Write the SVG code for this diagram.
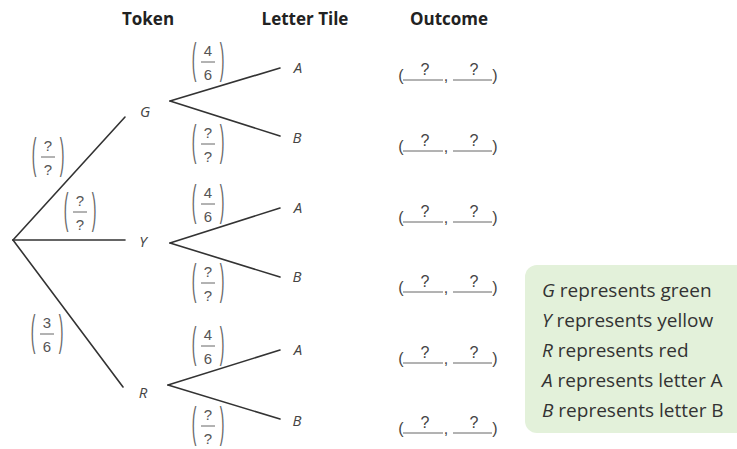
<svg xmlns="http://www.w3.org/2000/svg" width="737" height="449" viewBox="0 0 737 449">
<defs>
<style>
.hd{font-family:"Open Sans","Liberation Sans",sans-serif;font-weight:bold;font-size:17px;fill:#222;text-anchor:middle}
.lb{font-family:"Open Sans","Liberation Sans",sans-serif;font-style:italic;font-size:15px;fill:#444;text-anchor:middle}
.br{stroke:#333;stroke-width:1.6;fill:none;stroke-linecap:round}
.fr{font-family:"Liberation Sans",sans-serif;font-size:15px;fill:#555;text-anchor:middle}
.par{font-family:"Liberation Sans",sans-serif;font-size:14px;fill:#666;text-anchor:middle}
.bar{stroke:#666;stroke-width:1}
.q{font-family:"Liberation Sans",sans-serif;font-size:16px;fill:#444;text-anchor:middle}
.ul{stroke:#666;stroke-width:1}
.lg{font-family:"Open Sans","Liberation Sans",sans-serif;font-size:19px;fill:#333}
.it{font-style:italic}
</style>
<g id="fq"><text class="par" x="-14" y="3.6" transform="scale(1,3.1)">(</text><text class="par" x="14" y="3.6" transform="scale(1,3.1)">)</text><text class="fr" x="0" y="-6">?</text><line class="bar" x1="-7" y1="0" x2="7" y2="0"/><text class="fr" x="0" y="18">?</text></g>
<g id="f46"><text class="par" x="-14" y="3.6" transform="scale(1,3.1)">(</text><text class="par" x="14" y="3.6" transform="scale(1,3.1)">)</text><text class="fr" x="0" y="-6">4</text><line class="bar" x1="-7" y1="0" x2="7" y2="0"/><text class="fr" x="0" y="18">6</text></g>
<g id="oc"><text class="q" x="401" y="1">(</text><line class="ul" x1="403" y1="0" x2="443" y2="0"/><text class="q" x="446" y="1">,</text><line class="ul" x1="453" y1="0" x2="492" y2="0"/><text class="q" x="495" y="1">)</text><text class="q" x="425" y="-5">?</text><text class="q" x="474" y="-5">?</text></g>
</defs>

<g id="headings">
<text class="hd" x="148" y="25">Token</text>
<text class="hd" x="305" y="25">Letter Tile</text>
<text class="hd" x="449" y="25">Outcome</text>
</g>

<g id="connectors">
<line class="br" x1="13" y1="240" x2="125" y2="117"/>
<line class="br" x1="13" y1="240" x2="125" y2="240"/>
<line class="br" x1="13" y1="240" x2="123" y2="387"/>
<line class="br" x1="170" y1="101" x2="280" y2="68"/>
<line class="br" x1="170" y1="101" x2="280" y2="136"/>
<line class="br" x1="170" y1="243" x2="280" y2="208"/>
<line class="br" x1="170" y1="243" x2="280" y2="277"/>
<line class="br" x1="168" y1="385" x2="280" y2="350"/>
<line class="br" x1="168" y1="385" x2="280" y2="419"/>
</g>

<g id="probabilities">
<use href="#fq" x="48" y="157"/>
<use href="#fq" x="80" y="212"/>
<g transform="translate(47,334)"><text class="par" x="-14" y="3.6" transform="scale(1,3.1)">(</text><text class="par" x="14" y="3.6" transform="scale(1,3.1)">)</text><text class="fr" x="0" y="-6">3</text><line class="bar" x1="-7" y1="0" x2="7" y2="0"/><text class="fr" x="0" y="18">6</text></g>
<use href="#f46" x="208" y="62"/>
<use href="#fq" x="208" y="144"/>
<use href="#f46" x="208" y="204"/>
<use href="#fq" x="208" y="283"/>
<use href="#f46" x="208" y="346"/>
<use href="#fq" x="208" y="426"/>
</g>

<g id="node-G"><text class="lb" x="145" y="117">G</text></g>
<g id="node-Y"><text class="lb" x="143" y="247">Y</text></g>
<g id="node-R"><text class="lb" x="143" y="398">R</text></g>
<g id="node-GA"><text class="lb" x="298" y="73">A</text></g>
<g id="node-GB"><text class="lb" x="297" y="143">B</text></g>
<g id="node-YA"><text class="lb" x="298" y="213">A</text></g>
<g id="node-YB"><text class="lb" x="297" y="282">B</text></g>
<g id="node-RA"><text class="lb" x="298" y="355">A</text></g>
<g id="node-RB"><text class="lb" x="297" y="426">B</text></g>

<g id="outcomes">
<use href="#oc" y="80"/>
<use href="#oc" y="151"/>
<use href="#oc" y="222"/>
<use href="#oc" y="292"/>
<use href="#oc" y="363"/>
<use href="#oc" y="433"/>
</g>

<g id="legend">
<rect x="525" y="265" width="230" height="168" rx="12" fill="#e3f1da"/>
<text class="lg" x="542" y="297"><tspan class="it">G</tspan> represents green</text>
<text class="lg" x="542" y="327"><tspan class="it">Y</tspan> represents yellow</text>
<text class="lg" x="542" y="357"><tspan class="it">R</tspan> represents red</text>
<text class="lg" x="542" y="387"><tspan class="it">A</tspan> represents letter A</text>
<text class="lg" x="542" y="417"><tspan class="it">B</tspan> represents letter B</text>
</g>
</svg>
